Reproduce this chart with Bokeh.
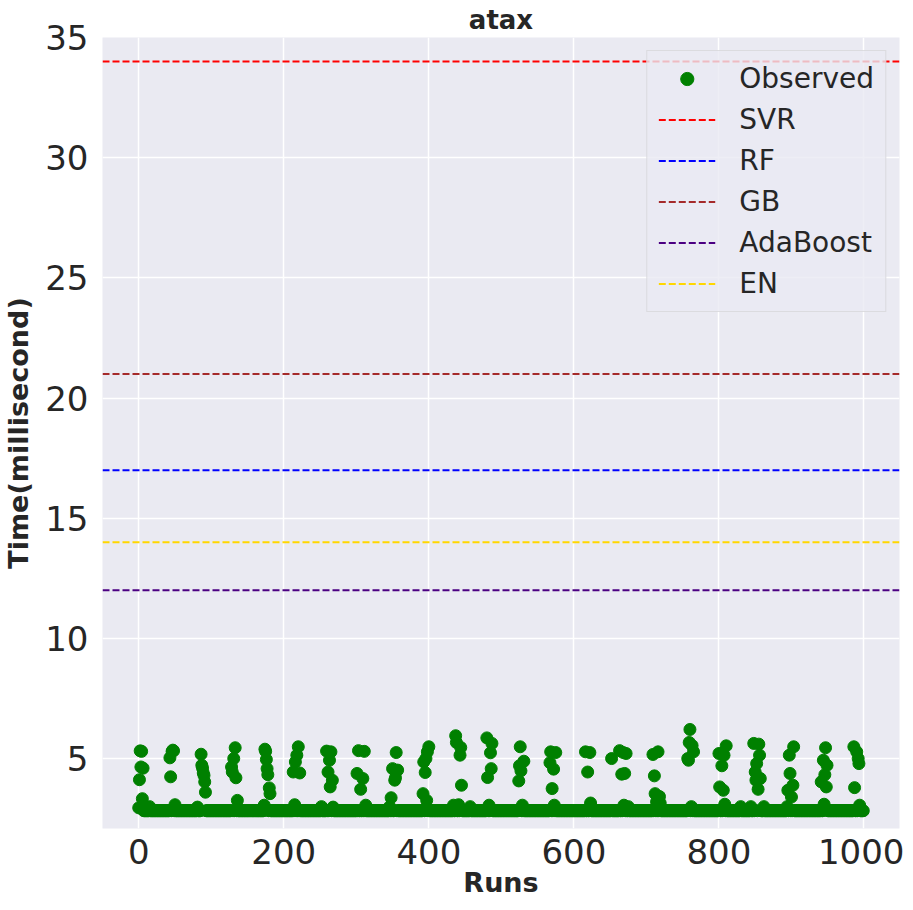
from bokeh.plotting import figure
from bokeh.models import FixedTicker, Range1d, Legend, LegendItem
from bokeh.embed import file_html
from bokeh.resources import INLINE

# ---- data ----
n_runs = 1000
baseline_time = 2.83

raised_runs = [1, 2, 3, 4, 5, 6,
               43, 44, 46, 47, 48,
               86, 87, 88, 89, 90, 91, 92,
               128, 129, 131, 133, 134, 136,
               174, 175, 176, 177, 178, 180, 181,
               213, 216, 218, 220, 222,
               259, 265, 263, 261, 267, 264,
               303, 311, 301, 309, 306,
               355, 350, 357, 353, 354, 348,
               400, 398, 396, 393, 395, 392, 397,
               437, 438, 444, 443, 445,
               480, 487, 485, 486, 481,
               526, 531, 525, 527, 524,
               568, 575, 567, 572, 570,
               616, 622, 619,
               652, 663, 668, 666, 672, 670,
               716, 709, 711, 712, 718, 714,
               760, 759, 763, 765, 757, 758,
               810, 800, 807, 804, 801, 806,
               848, 855, 856, 852, 850, 857, 851, 854,
               903, 897, 898, 902, 895, 900,
               947, 944, 949, 946, 941, 948,
               986, 990, 992, 993, 987]
raised_times = [4.12, 5.32, 4.65, 5.30, 3.33, 4.60,
                5.03, 4.24, 5.30, 5.35, 5.32,
                5.18, 4.72, 4.60, 4.40, 4.30, 4.03, 3.60,
                4.65, 4.44, 5.00, 5.45, 4.20, 3.26,
                5.39, 5.30, 4.96, 4.58, 4.33, 3.78, 3.54,
                4.44, 4.86, 5.14, 5.49, 4.40,
                5.31, 5.28, 4.93, 4.44, 4.10, 3.82,
                5.33, 5.30, 4.38, 4.17, 3.72,
                5.25, 4.58, 4.52, 4.10, 4.20, 3.37,
                5.49, 5.28, 5.00, 4.86, 4.42, 3.54, 3.26,
                5.95, 5.67, 5.46, 5.14, 3.89,
                5.86, 5.63, 5.24, 4.58, 4.21,
                5.49, 4.89, 4.70, 4.49, 4.07,
                5.28, 5.25, 4.83, 4.56, 3.75,
                5.28, 5.25, 4.44,
                5.00, 5.33, 5.25, 4.35, 5.21, 4.38,
                5.28, 5.17, 4.28, 3.54, 3.42, 3.20,
                6.21, 5.67, 5.54, 5.28, 5.00, 4.93,
                5.53, 5.21, 5.14, 4.70, 3.82, 3.68,
                5.63, 5.60, 5.14, 4.79, 4.44, 4.17, 4.10, 3.72,
                5.49, 5.14, 4.38, 3.89, 3.68, 3.40,
                5.45, 4.93, 4.72, 4.33, 4.03, 3.82,
                5.49, 5.28, 5.00, 4.79, 3.79]

bump_runs = [0, 15, 50, 81, 173, 215, 252, 268, 313, 346, 434, 441, 457, 483,
             529, 573, 623, 669, 675, 719, 762, 808, 830, 844, 862, 894, 945, 994]
bump_times = [2.95, 3.00, 3.08, 2.98, 3.06, 3.08, 3.00, 2.98, 3.06, 3.00, 3.06, 3.08, 3.00, 3.06,
              3.06, 3.06, 3.15, 3.06, 3.00, 3.15, 3.00, 3.10, 3.00, 3.00, 3.00, 3.00, 3.10, 3.06]

model_names = ["SVR", "RF", "GB", "AdaBoost", "EN"]
model_times = [34.0, 17.0, 21.0, 12.0, 14.0]
model_colors = ["#ff0000", "#0000ff", "#a52a2a", "#4b0082", "#ffd700"]

x_ticks = [0, 200, 400, 600, 800, 1000]
y_ticks = [5, 10, 15, 20, 25, 30, 35]

runs = list(range(n_runs))
times = [baseline_time] * n_runs
for r, t in zip(bump_runs, bump_times):
    times[r] = t
for r, t in zip(raised_runs, raised_times):
    times[r] = t

FONT = "DejaVu Sans"
TXT = "#262626"

x_margin = 0.05 * (runs[-1] - runs[0])
x0, x1 = runs[0] - x_margin, runs[-1] + x_margin

p = figure(frame_width=797, frame_height=791, output_backend="svg", toolbar_location=None,
           x_range=Range1d(x0, x1), y_range=Range1d(2.09, 35.0),
           min_border_left=98, min_border_right=5, min_border_top=33, min_border_bottom=70,
           background_fill_color="#eaeaf2", border_fill_color="white",
           outline_line_color=None)

p.title.text = "atax"
p.title.align = "center"
p.title.text_font = FONT
p.title.text_font_size = "26px"
p.title.text_font_style = "bold"
p.title.text_color = TXT
p.title.standoff = 5

for ax in (p.xaxis[0], p.yaxis[0]):
    ax.axis_line_color = None
    ax.major_tick_line_color = None
    ax.minor_tick_line_color = None
    ax.major_tick_out = 0
    ax.major_tick_in = 0
    ax.minor_tick_out = 0
    ax.minor_tick_in = 0
    ax.major_label_text_font = FONT
    ax.major_label_text_font_size = "34px"
    ax.major_label_text_color = TXT
    ax.axis_label_text_font = FONT
    ax.axis_label_text_font_size = "27px"
    ax.axis_label_text_font_style = "bold"
    ax.axis_label_text_color = TXT

p.xaxis.ticker = FixedTicker(ticks=x_ticks)
p.yaxis.ticker = FixedTicker(ticks=y_ticks)
p.xaxis.axis_label = "Runs"
p.yaxis.axis_label = "Time(millisecond)"
p.xaxis.major_label_standoff = 10
p.yaxis.major_label_standoff = 14
p.xaxis.axis_label_standoff = 0
p.yaxis.axis_label_standoff = 8

p.grid.grid_line_color = "white"
p.grid.grid_line_width = 1.5
p.xgrid.ticker = FixedTicker(ticks=x_ticks)
p.ygrid.ticker = FixedTicker(ticks=y_ticks)

items = []
sc = p.scatter(runs, times, size=12, color="green")
# legend-only proxy (no visible data) so the legend marker is drawn a bit smaller
proxy = p.scatter([float("nan")], [float("nan")], size=10, color="green")
items.append(LegendItem(label="Observed", renderers=[proxy]))
for name, t, c in zip(model_names, model_times, model_colors):
    r = p.line([x0, x1], [t, t], line_color=c, line_width=2, line_dash="7 3")
    items.append(LegendItem(label=name, renderers=[r]))

legend = Legend(items=items, location="top_right")
legend.label_text_font = FONT
legend.label_text_font_size = "28px"
legend.label_text_color = TXT
legend.background_fill_color = "#eaeaf2"
legend.background_fill_alpha = 0.8
legend.border_line_color = "#cccccc"
legend.border_line_width = 1
legend.glyph_width = 57
legend.glyph_height = 33
legend.label_height = 33
legend.spacing = 8
legend.padding = 11
legend.label_standoff = 24
legend.margin = 13
p.add_layout(legend)

open("out.html", "w").write(file_html(p, INLINE))
